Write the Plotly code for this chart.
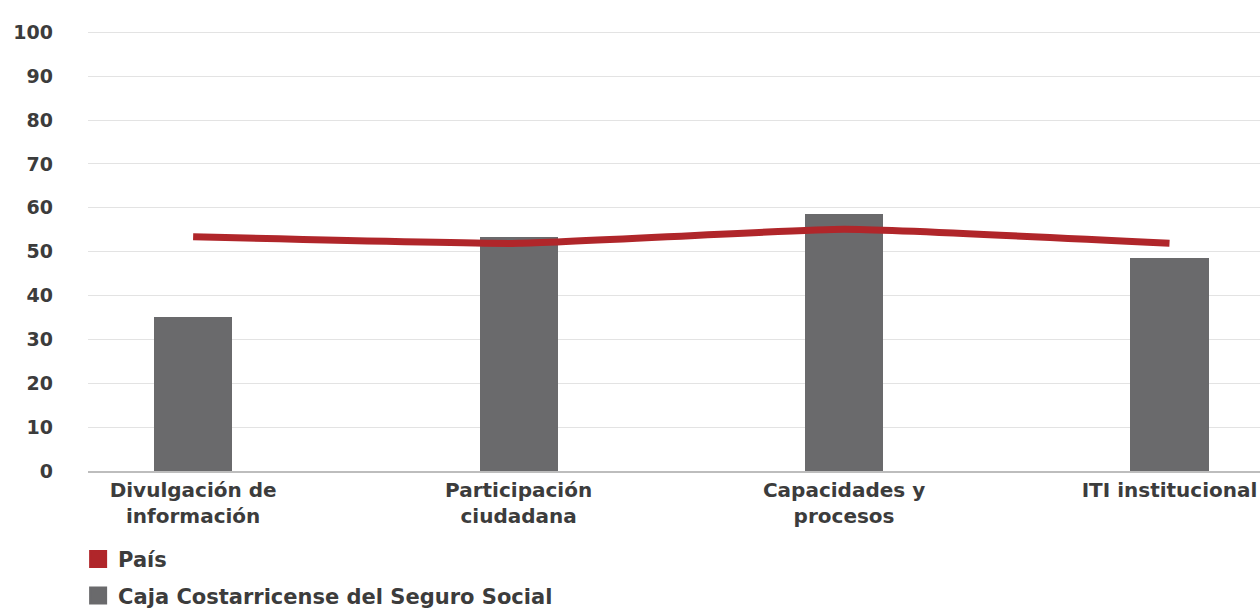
import plotly.graph_objects as go

# Categories and values
categorias = ["Divulgación de<br>información", "Participación<br>ciudadana",
              "Capacidades y<br>procesos", "ITI institucional"]
caja = [35.2, 53.4, 58.6, 48.6]
pais = [53.4, 51.9, 55.1, 51.9]
y_ticks = [0, 10, 20, 30, 40, 50, 60, 70, 80, 90, 100]

ROJO = "#B0262A"
GRIS = "#6A6A6C"
TEXTO = "#3c3c3c"
FUENTE = "DejaVu Sans"

x = list(range(len(categorias)))

fig = go.Figure()

fig.add_trace(go.Bar(
    x=x, y=caja, width=0.24, marker=dict(color=GRIS, line=dict(width=0)),
    name="Caja Costarricense del Seguro Social", showlegend=False,
))
fig.add_trace(go.Scatter(
    x=x, y=pais, mode="lines",
    line=dict(color=ROJO, width=7, shape="spline", smoothing=0.4),
    name="País", showlegend=False,
))

# Square legend keys
fig.add_trace(go.Scatter(
    x=[None], y=[None], mode="markers", name="País", legendgroup="a",
    marker=dict(symbol="square", size=16, color=ROJO,
                line=dict(color=ROJO, width=2)),
))
fig.add_trace(go.Scatter(
    x=[None], y=[None], mode="markers", name="Caja Costarricense del Seguro Social",
    legendgroup="b",
    marker=dict(symbol="square", size=16, color=GRIS,
                line=dict(color=GRIS, width=2)),
))

fig.update_layout(
    width=1260, height=609,
    margin=dict(l=88, r=0, t=28, b=138, autoexpand=False),
    plot_bgcolor="white", paper_bgcolor="white",
    font=dict(family=FUENTE, color=TEXTO, size=19),
    showlegend=True,
    legend=dict(
        xref="container", yref="container",
        x=0.062, y=0.115, xanchor="left", yanchor="top",
        orientation="v", traceorder="grouped",
        font=dict(family=FUENTE, size=21, color=TEXTO, weight="bold"),
        itemsizing="trace", tracegroupgap=6,
        bgcolor="rgba(0,0,0,0)",
    ),
    bargap=0,
)

fig.update_xaxes(
    tickmode="array", tickvals=x, ticktext=categorias,
    range=[-0.323, 3.278], automargin=False,
    showgrid=False, showline=True, linecolor="#bdbdbd", linewidth=1.5,
    ticks="", tickfont=dict(family=FUENTE, size=20, color=TEXTO, weight="bold"),
    fixedrange=True,
)
fig.update_yaxes(
    range=[0, 101], tickmode="array", tickvals=y_ticks,
    showgrid=True, gridcolor="#e3e3e3", gridwidth=1,
    zeroline=False, showline=False, ticks="", automargin=False,
    ticklabelstandoff=34,
    tickfont=dict(family=FUENTE, size=19, color=TEXTO, weight="bold"),
    fixedrange=True,
)

fig.write_html("out.html")
